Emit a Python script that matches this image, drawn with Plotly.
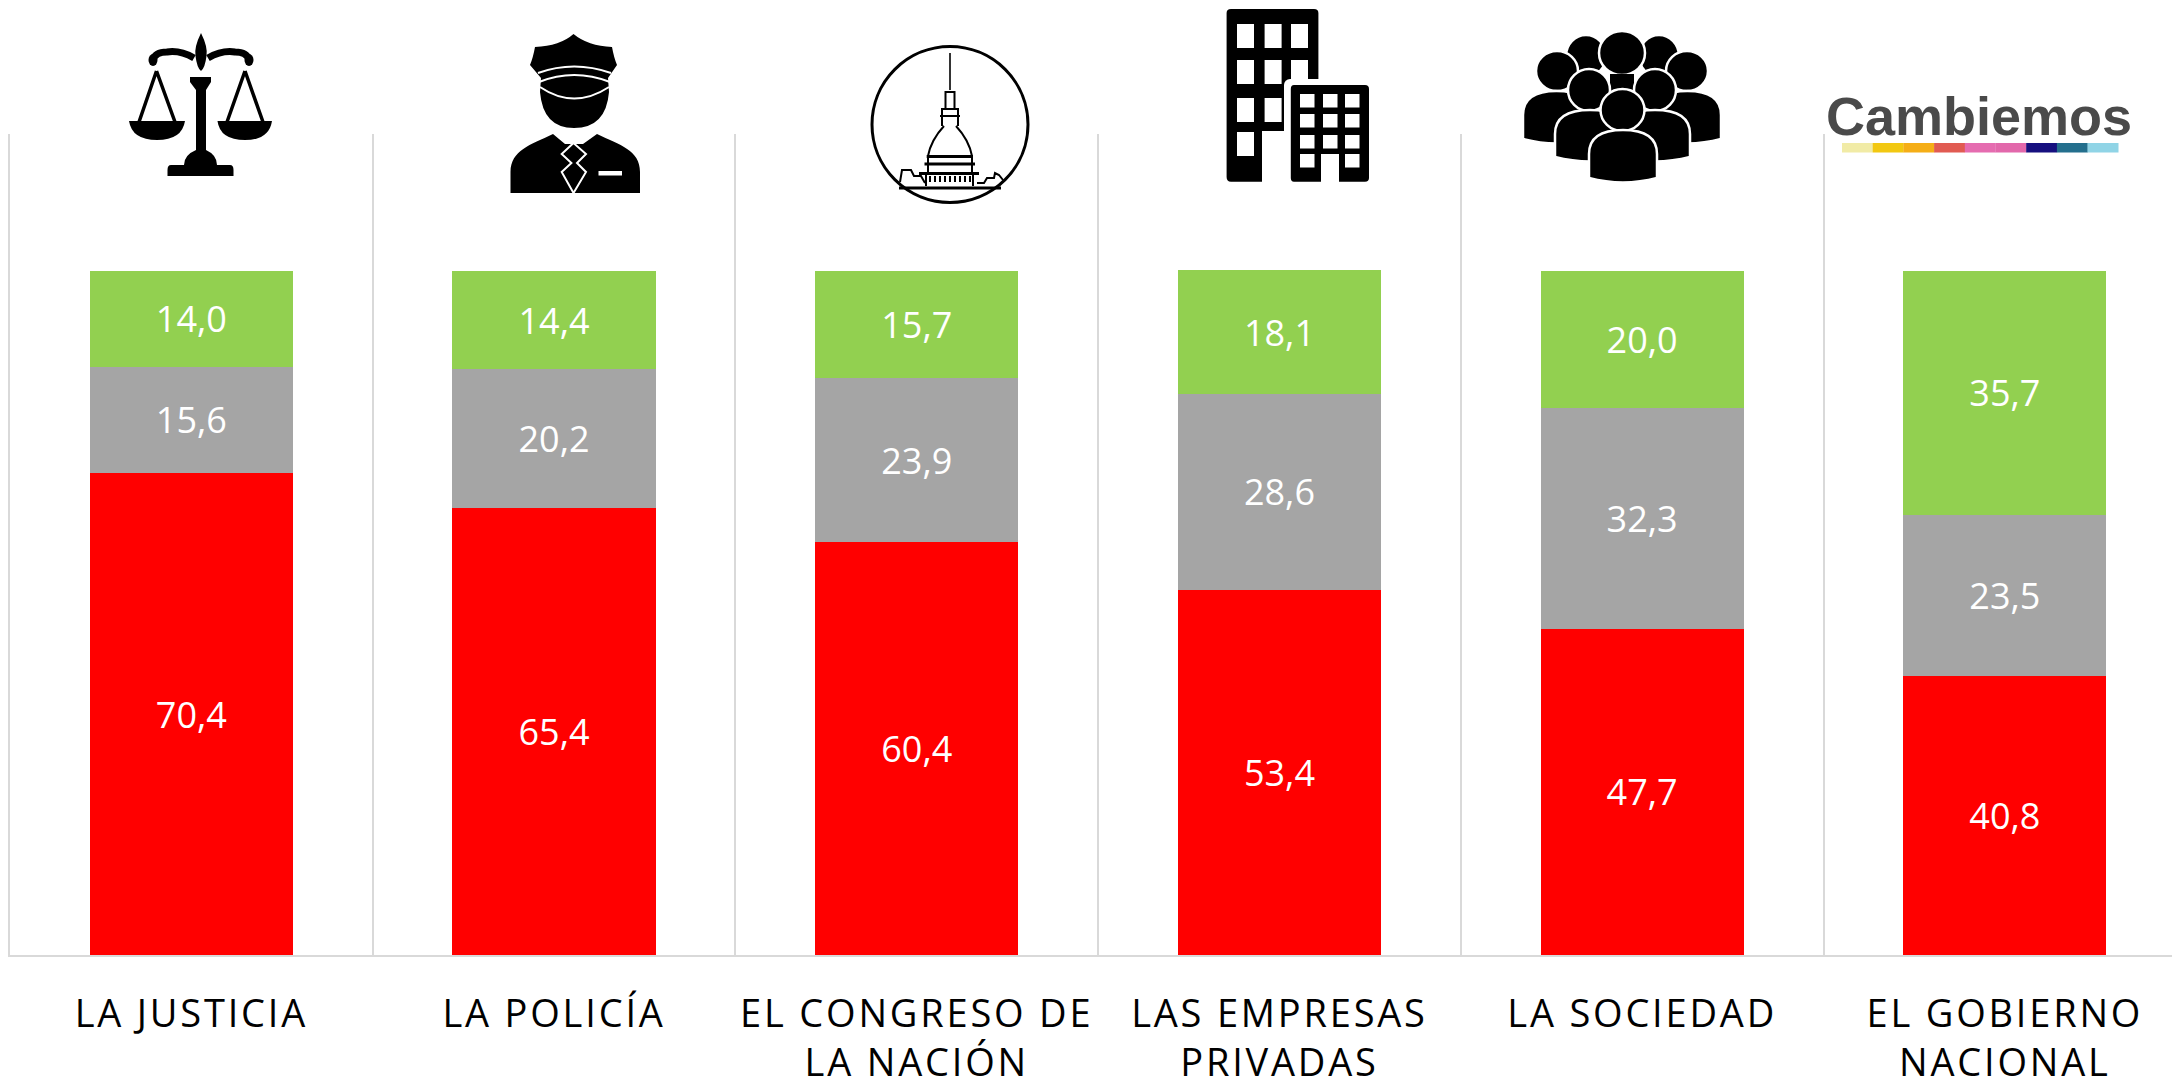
import base64
import plotly.graph_objects as go

categories = ["LA JUSTICIA", "LA POLICÍA", "EL CONGRESO DE<br>LA NACIÓN",
              "LAS EMPRESAS<br>PRIVADAS", "LA SOCIEDAD", "EL GOBIERNO<br>NACIONAL"]
rojo = [70.4, 65.4, 60.4, 53.4, 47.7, 40.8]
gris = [15.6, 20.2, 23.9, 28.6, 32.3, 23.5]
verde = [14.0, 14.4, 15.7, 18.1, 20.0, 35.7]

FONT = "Open Sans"
W, H = 2172, 1079
L, R, T, B = 10, 0, 134, 124
PW, PH = W - L - R, H - T - B


def px(x):
    return (x - L) / PW


def py(y):
    return (H - B - y) / PH


def icon(x0, y0, x1, y1, body):
    svg = (f'<svg xmlns="http://www.w3.org/2000/svg" width="{x1-x0}" height="{y1-y0}" '
           f'viewBox="{x0} {y0} {x1-x0} {y1-y0}">{body}</svg>')
    src = "data:image/svg+xml;base64," + base64.b64encode(svg.encode()).decode()
    return dict(source=src, xref="paper", yref="paper", x=px(x0), y=py(y0),
                sizex=(x1 - x0) / PW, sizey=(y1 - y0) / PH,
                xanchor="left", yanchor="top", sizing="stretch", layer="above")


scales = """
<g fill="#000" stroke="none">
<path d="M201,33 Q194,47 195.5,56 Q197,68 201,71 Q205,68 206.5,56 Q208,47 201,33Z"/>
<ellipse cx="153" cy="60" rx="4.5" ry="6"/><ellipse cx="249" cy="60" rx="4.5" ry="6"/>
<path d="M129,121 L185,121 Q182,140 157,140 Q132,140 129,121Z"/>
<path d="M217.5,121 L272,121 Q269,140 245,140 Q220,140 217.5,121Z"/>
<path d="M190,77 L211,77 L211,82 L206,90 L206,150 Q217,155 217,165 L230,165 Q233.5,165 233.5,170 L233.5,176 L167.5,176 L167.5,170 Q167.5,165 171,165 L184,165 Q184,155 196,150 L196,90 L190,82Z"/>
</g>
<g fill="none" stroke="#000">
<path stroke-width="7" d="M153,60 Q155,52 167,52 Q180,50 194,58 M249,60 Q247,52 235,52 Q222,50 208,58"/>
<path stroke-width="3.5" d="M156.5,71 L139,122 M156.5,71 L175,122 M245,71 L227,122 M245,71 L263,122"/>
</g>"""

police = """
<path fill="#000" d="M573.5,34 Q560,46 535,47 Q533,58 530,65 L541,78 L540,92 Q543,128 574,128 Q606,128 609,92 L608,78 L617,65 Q614,58 612,47 Q588,46 573.5,34Z"/>
<g fill="none" stroke="#fff" stroke-width="2">
<path d="M538,73 Q574,60 611,73"/><path d="M539,82 Q574,68 610,82"/><path d="M540,87 Q574,110 609,87"/>
</g>
<path fill="#000" d="M553,134 C530,145 511,150 510.5,172 L510.5,193 L640,193 L640,172 C640,150 620,145 597,134 L583,144 L565,144Z"/>
<path fill="none" stroke="#fff" stroke-width="2" d="M573.5,143 L561.7,154 L571.4,163 L561.7,172 L573.5,193 L586,172 L577,163 L586,154Z"/>
<rect x="598.5" y="171" width="23.5" height="4.5" fill="#fff"/>"""

congreso = """
<circle cx="950" cy="124.5" r="78" fill="#fff" stroke="#000" stroke-width="3"/>
<g fill="none" stroke="#000" stroke-width="2">
<path stroke-width="1.6" d="M950,53 L950,90"/>
<path d="M945.5,109 L945.5,92 L954.5,92 L954.5,109"/>
<path d="M942,126 L942,109 L958,109 L958,126 M940,116 L960,116"/>
<path d="M944,126 Q931,140 928,156 M956,126 Q969,140 972,156"/>
<path stroke-width="3" d="M926.7,156.5 L973,156.5 M924.5,164 L975,164 M919,173.5 L979,173.5"/>
<path d="M928,157 L928,173 M972,157 L972,173 M926,174 L926,186 M973,174 L973,186"/>
<path stroke-dasharray="2 3" stroke-width="6" d="M929,179 L971,179"/>
<path stroke-width="3" d="M899,188 L1001,188"/>
<path d="M900,182 L902,170 L911,170 L914,176 L921,176 L925,183 M977,183 L984,183 L987,178 L994,178 L995,173 L999,175 L1003,180"/>
</g>"""

tall_win = [(1237, 24), (1264.6, 24), (1291, 24),
            (1237, 60), (1264.6, 60), (1291, 60),
            (1237, 98), (1264.6, 98), (1237, 132)]
small_win = [(1300, 94), (1323, 94), (1345, 94), (1300, 114), (1323, 114), (1345, 114),
             (1300, 135), (1323, 135), (1345, 135), (1300, 154), (1345, 154)]
edificios = '<path fill="#000" d="M1231,9 L1314,9 Q1318.4,9 1318.4,13 L1318.4,131 L1262,131 L1262,181.7 L1231,181.7 Q1226.6,181.7 1226.6,177 L1226.6,13 Q1226.6,9 1231,9Z"/>'
edificios += "".join(f'<rect x="{x}" y="{y}" width="17" height="24" fill="#fff"/>' for x, y in tall_win)
edificios += '<rect x="1284" y="79" width="90" height="104" rx="6" fill="#fff"/>'
edificios += '<path fill="#000" d="M1294,85 L1365,85 Q1369,85 1369,89 L1369,178 Q1369,181.7 1365,181.7 L1339,181.7 L1339,154 L1321,154 L1321,181.7 L1294,181.7 Q1290.8,181.7 1290.8,178 L1290.8,89 Q1290.8,85 1294,85Z"/>'
edificios += "".join(f'<rect x="{x}" y="{y}" width="14.5" height="13.5" fill="#fff"/>' for x, y in small_win)


def head(cx, cy, rx, ry):
    return f'<ellipse cx="{cx}" cy="{cy}" rx="{rx}" ry="{ry}"/>'


def body(x0, x1, top, bottom):
    m = (x0 + x1) / 2
    return (f'<path d="M{x0},{bottom-5} L{x0},{top+24} Q{x0},{top} {m},{top} '
            f'Q{x1},{top} {x1},{top+24} L{x1},{bottom-5} Q{m},{bottom+4} {x0},{bottom-5}Z"/>')


sociedad = ('<g fill="#000" stroke="#fff" stroke-width="2.5">'
            + head(1586, 56, 20, 21) + head(1659, 56, 20, 21)
            + head(1622, 53, 23, 22)
            + '<rect x="1610" y="74" width="24" height="20" stroke="none"/>'
            + head(1557, 71, 21, 20) + head(1687, 71, 21, 20)
            + body(1523, 1590, 91, 144) + body(1654, 1721, 91, 144)
            + head(1589, 90, 21, 21) + head(1655, 90, 21, 21)
            + body(1555, 1625, 110, 162) + body(1620, 1690, 110, 162)
            + head(1622.5, 110, 22, 21)
            + body(1589, 1657, 130, 183)
            + "</g>")

stripe_colors = ["#F1EBA6", "#F2C811", "#F5AE17", "#E15B52", "#E56CB0",
                 "#E268AB", "#16107F", "#246F8D", "#90D4E6"]
stripes = "".join(f'<rect x="{1842 + i * 30.7:.1f}" y="143" width="30.9" height="9.5" fill="{c}"/>'
                  for i, c in enumerate(stripe_colors))

fig = go.Figure()
for name, vals, col in [("Rojo", rojo, "#FF0000"), ("Gris", gris, "#A5A5A5"), ("Verde", verde, "#92D050")]:
    fig.add_bar(x=categories, y=vals, name=name, marker=dict(color=col, line=dict(width=0)),
                texttemplate="%{y:.1f}", textposition="inside", insidetextanchor="middle",
                textangle=0, constraintext="none",
                insidetextfont=dict(family=FONT, size=36, color="#FFFFFF"))

fig.update_layout(
    width=W, height=H, barmode="stack", bargap=0.44, showlegend=False,
    separators=",.", plot_bgcolor="#FFFFFF", paper_bgcolor="#FFFFFF",
    margin=dict(l=L, r=R, t=T, b=B, pad=0),
    font=dict(family=FONT, color="#000000"),
    xaxis=dict(type="category", categoryorder="array", categoryarray=categories,
               range=[-0.5, -0.5 + PW / 362.7], tickson="boundaries", ticks="",
               showgrid=True, gridcolor="#D9D9D9", gridwidth=1.5,
               showline=True, linecolor="#D9D9D9", linewidth=2,
               tickfont=dict(family=FONT, size=38, color="#000000"),
               tickangle=0, ticklabelstandoff=24, automargin=False),
    yaxis=dict(range=[0, 120], showgrid=False, zeroline=False, showticklabels=False,
               showline=True, linecolor="#D9D9D9", linewidth=1.5,
               ticks="", automargin=False),
    images=[icon(120, 25, 280, 185, scales),
            icon(500, 28, 650, 200, police),
            icon(865, 40, 1035, 210, congreso),
            icon(1220, 5, 1375, 190, edificios),
            icon(1518, 28, 1726, 190, sociedad),
            icon(1835, 138, 2125, 158, stripes)],
    annotations=[dict(text="<b>Cambiemos</b>", xref="paper", yref="paper",
                      x=px(1979), y=py(116), showarrow=False, xanchor="center", yanchor="middle",
                      font=dict(family="Liberation Sans", size=54, color="#4A4A4A"))],
)

post = """
document.documentElement.style.margin='0';document.body.style.margin='0';
document.documentElement.style.overflow='hidden';
document.querySelectorAll('.xtick text').forEach(function(t){t.style.letterSpacing='2.8px';});
"""
fig.write_html("out.html", post_script=post, config=dict(displayModeBar=False))
